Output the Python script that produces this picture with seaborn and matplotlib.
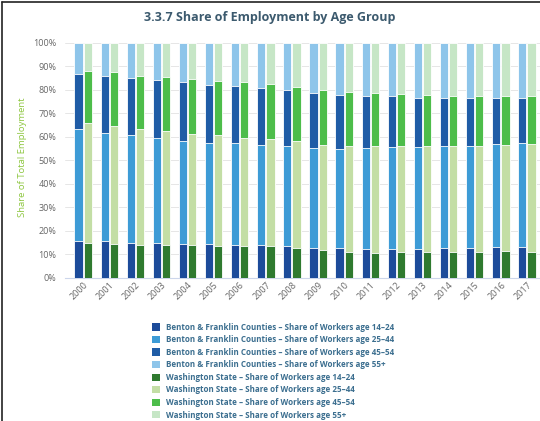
import numpy as np
import pandas as pd
import matplotlib
matplotlib.use("Agg")
import matplotlib.pyplot as plt
import seaborn as sns
from matplotlib.patches import Patch
from matplotlib.lines import Line2D
from matplotlib.ticker import PercentFormatter

years = [str(y) for y in range(2000, 2018)]
age_groups = ["14–24", "25–44", "45–54", "55+"]
regions = ["Benton & Franklin Counties", "Washington State"]

# Benton & Franklin Counties shares (%)
bf_14_24 = [15.6, 15.5, 14.8, 14.8, 14.3, 14.5, 13.9, 13.8, 13.5, 12.8, 12.6, 12.1, 12.1, 12.1, 12.6, 12.8, 13.0, 13.0]
bf_25_44 = [47.9, 46.2, 45.8, 44.9, 44.1, 42.9, 43.3, 42.8, 42.5, 42.5, 42.4, 43.2, 43.5, 43.6, 43.4, 43.5, 44.0, 44.2]
bf_45_54 = [23.3, 24.4, 24.4, 24.4, 24.9, 24.9, 24.4, 24.1, 23.9, 23.4, 22.9, 22.0, 21.7, 20.9, 20.6, 20.3, 19.6, 19.4]
bf_55p   = [13.2, 13.9, 15.0, 15.9, 16.7, 17.7, 18.4, 19.3, 20.1, 21.3, 22.1, 22.7, 22.7, 23.4, 23.4, 23.4, 23.4, 23.4]

# Washington State shares (%)
wa_14_24 = [14.9, 14.6, 13.9, 13.8, 13.8, 13.5, 13.5, 13.5, 12.8, 11.8, 11.1, 10.6, 10.9, 10.9, 11.1, 11.1, 11.5, 11.2]
wa_25_44 = [51.1, 49.9, 49.5, 48.8, 47.6, 47.1, 46.2, 45.4, 45.6, 44.9, 44.9, 45.4, 45.1, 45.1, 44.9, 45.2, 45.2, 45.8]
wa_45_54 = [21.9, 23.0, 22.7, 22.9, 23.3, 23.4, 23.6, 23.8, 22.9, 23.4, 23.3, 22.7, 22.2, 21.9, 21.6, 21.3, 20.9, 20.3]
wa_55p   = [12.1, 12.5, 13.9, 14.5, 15.3, 16.0, 16.7, 17.3, 18.7, 19.9, 20.7, 21.3, 21.8, 22.1, 22.4, 22.4, 22.4, 22.7]

bf_colors = ["#1c4b9a", "#3d9bd6", "#1f5ca6", "#8ec5ea"]
wa_colors = ["#2f7a2f", "#c3dea5", "#4dbd4a", "#c6e6c6"]

bf = np.array([bf_14_24, bf_25_44, bf_45_54, bf_55p])
wa = np.array([wa_14_24, wa_25_44, wa_45_54, wa_55p])
bf_cum = np.cumsum(bf, axis=0)
wa_cum = np.cumsum(wa, axis=0)

rows = []
for i, y in enumerate(years):
    rows.append(dict(year=y, region=regions[0], **{f"c{k}": bf_cum[k, i] for k in range(4)}))
    rows.append(dict(year=y, region=regions[1], **{f"c{k}": wa_cum[k, i] for k in range(4)}))
df = pd.DataFrame(rows)

sns.set_theme(style="white")
plt.rcParams['font.family'] = ['Open Sans', 'DejaVu Sans']

fig = plt.figure(figsize=(5.40, 4.21), dpi=100)
ax = fig.add_axes([0.12, 0.34, 0.88, 0.558])

for k in range(3, -1, -1):
    sns.barplot(data=df, x="year", y=f"c{k}", hue="region", order=years,
                hue_order=regions,
                palette={regions[0]: bf_colors[k], regions[1]: wa_colors[k]},
                width=0.7, gap=0.1, dodge=True, legend=False, saturation=1,
                edgecolor="white", linewidth=0.6, ax=ax, zorder=3)

ax.set_ylim(0, 100)
ax.set_xlim(-0.7, 17.45)
ax.set_yticks(np.arange(0, 101, 10))
ax.yaxis.set_major_formatter(PercentFormatter(decimals=0))
ax.grid(axis="y", color="#e6e6e6", linewidth=0.7, zorder=0)
ax.set_axisbelow(True)
for s in ["top", "right", "left"]:
    ax.spines[s].set_visible(False)
ax.spines["bottom"].set_color("#ccd6eb")
ax.spines["bottom"].set_linewidth(0.8)
ax.set_xlabel("")
ax.set_ylabel("")
ax.tick_params(axis="y", length=0, labelsize=6.5, labelcolor="#666666", pad=6)
ax.tick_params(axis="x", which="major", length=0, labelsize=6.5, labelcolor="#666666", pad=2)
ax.set_xticks(np.arange(-0.5, 18, 1), minor=True)
ax.tick_params(axis="x", which="minor", length=4, color="#ccd6eb", width=0.8)
for lbl in ax.get_xticklabels():
    lbl.set_rotation(45)
    lbl.set_ha("right")
    lbl.set_rotation_mode("anchor")

fig.text(0.5, 0.958, "3.3.7 Share of Employment by Age Group", ha="center", va="center",
         fontsize=9, fontweight="bold", color="#3c5a6e")
fig.text(0.042, 0.627, "Share of Total Employment", rotation=90, ha="center", va="center",
         fontsize=6.8, color="#8dc63f")

handles = []
labels = []
for r, cols in zip(["Benton & Franklin Counties", "Washington State"], [bf_colors, wa_colors]):
    for a, c in zip(age_groups, cols):
        handles.append(Patch(facecolor=c, edgecolor="none"))
        labels.append(f"{r} – Share of Workers age {a}")
leg = fig.legend(handles, labels, loc="upper left", bbox_to_anchor=(0.274, 0.243),
                 frameon=False, fontsize=5.8, handlelength=1.0, handleheight=1.0,
                 handletextpad=0.8, labelspacing=0.44, borderpad=0)
for t in leg.get_texts():
    t.set_color("#3b6e8f")
    t.set_fontweight("bold")

fig.add_artist(Line2D([0.004, 0.004], [0.0, 0.996], color="#222222", linewidth=1.2))
fig.add_artist(Line2D([0.004, 1.0], [0.996, 0.996], color="#222222", linewidth=1.2))

fig.savefig("out.png", dpi=100)
